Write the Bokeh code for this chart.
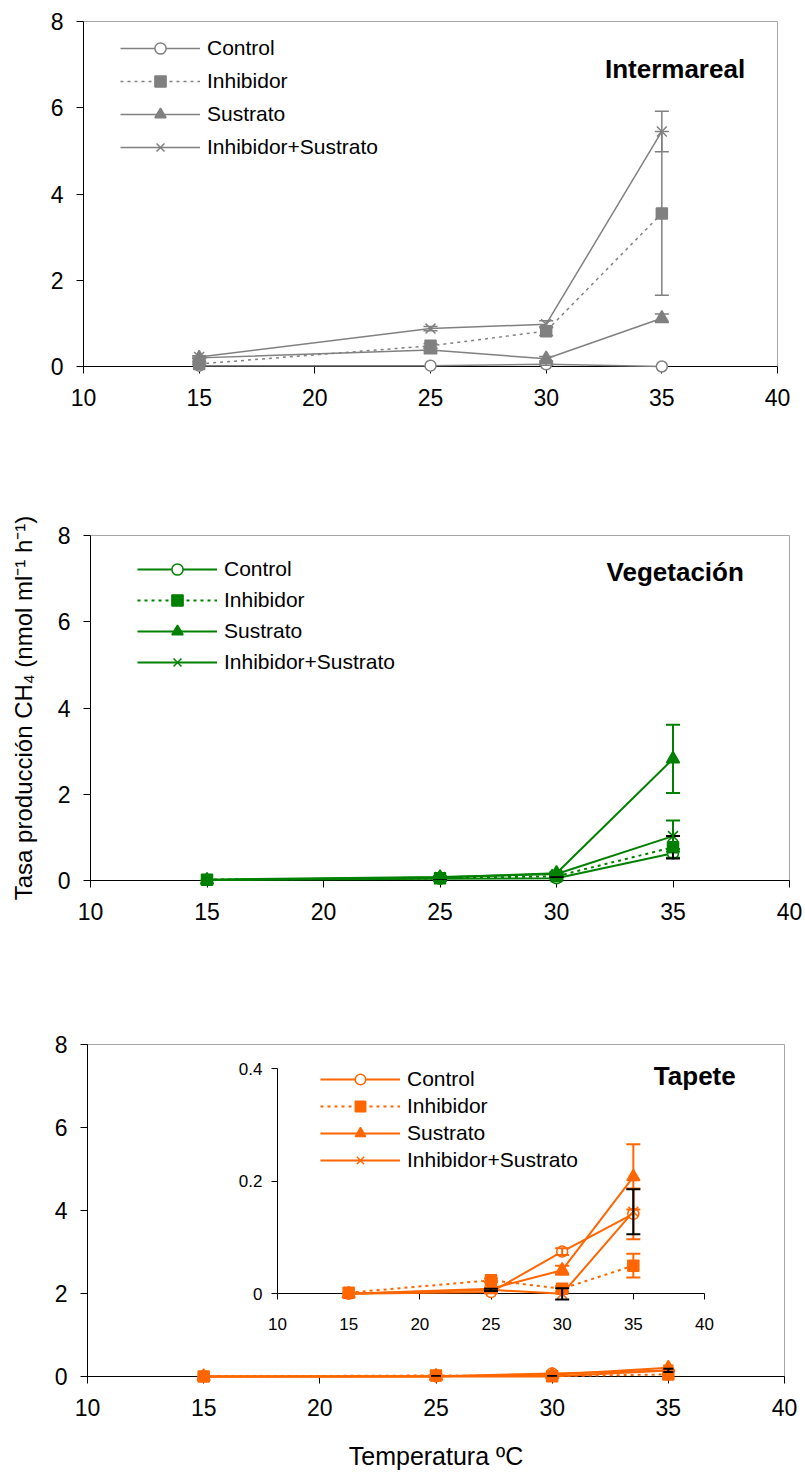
from bokeh.plotting import figure
from bokeh.layouts import column, row
from bokeh.models import (Range1d, LinearAxis, FixedTicker, Whisker, TeeHead,
                          ColumnDataSource, Legend, LegendItem, Label,
                          NumeralTickFormatter)
from bokeh.embed import file_html
from bokeh.resources import INLINE

# ---------------- data ----------------
temperatures = [15, 25, 30, 35]
x_ticks = [10, 15, 20, 25, 30, 35, 40]
y_ticks = [0, 2, 4, 6, 8]
inset_y_ticks = [0, 0.2, 0.4]
series_names = ["Control", "Inhibidor", "Sustrato", "Inhibidor+Sustrato"]

# Intermareal
int_control = [0.02, 0.02, 0.05, 0.0]
int_inhib = [0.06, 0.48, 0.82, 3.55]
int_sust = [0.2, 0.38, 0.18, 1.12]
int_inhsus = [0.22, 0.88, 0.98, 5.45]
int_control_err = [0.0, 0.0, 0.02, 0.0]
int_inhib_err = [0.02, 0.05, 0.1, 1.9]
int_sust_err = [0.02, 0.04, 0.05, 0.1]
int_inhsus_err = [0.03, 0.05, 0.08, 0.47]

# Vegetacion
veg_control = [0.01, 0.04, 0.05, 0.63]
veg_inhib = [0.02, 0.05, 0.1, 0.77]
veg_sust = [0.01, 0.07, 0.17, 2.82]
veg_inhsus = [0.02, 0.08, 0.15, 1.03]
veg_control_err = [0.0, 0.01, 0.02, 0.1]
veg_inhib_err = [0.0, 0.01, 0.02, 0.26]
veg_sust_err = [0.0, 0.01, 0.03, 0.79]
veg_inhsus_err = [0.0, 0.02, 0.03, 0.36]

# Tapete
tap_control = [0.0, 0.003, 0.075, 0.142]
tap_inhib = [0.002, 0.024, 0.009, 0.05]
tap_sust = [0.0, 0.009, 0.042, 0.208]
tap_inhsus = [0.0, 0.007, 0.0, 0.146]
tap_control_err = [0.0, 0.002, 0.006, 0.045]
tap_inhib_err = [0.0, 0.003, 0.005, 0.021]
tap_sust_err = [0.0, 0.002, 0.008, 0.058]
tap_inhsus_err = [0.0, 0.002, 0.01, 0.04]

# ---------------- style ----------------
FONT = "Liberation Sans"
GREY = "#808080"
GREEN = "#008000"
ORANGE = "#FF6600"
MARKERS = ["circle", "square", "triangle", "x"]
SIZES = [11, 11, 13, 14]
DASHES = ["solid", "3 4", "solid", "solid"]


def style_axis(ax, size="23px", tick_out=7, standoff=13):
    ax.axis_line_color = "black"
    ax.axis_line_width = 1
    ax.major_tick_line_color = "black"
    ax.major_tick_in = 0
    ax.major_tick_out = tick_out
    ax.minor_tick_line_color = None
    ax.major_label_text_font = FONT
    ax.major_label_text_font_size = size
    ax.major_label_text_color = "black"
    ax.major_label_standoff = standoff
    ax.axis_label_text_font = FONT
    ax.axis_label_text_font_style = "normal"
    ax.axis_label_text_color = "black"


def make_fig(left, fw, right, top, fh, bottom):
    p = figure(frame_width=fw, frame_height=fh,
               min_border_left=left, min_border_right=right,
               min_border_top=top, min_border_bottom=bottom,
               x_range=Range1d(10, 40), y_range=Range1d(0, 8),
               output_backend="svg", toolbar_location=None)
    p.grid.visible = False
    p.outline_line_color = "#a6a6a6"
    p.outline_line_width = 1
    p.background_fill_color = "white"
    p.border_fill_color = "white"
    p.xaxis.ticker = FixedTicker(ticks=x_ticks)
    p.yaxis.ticker = FixedTicker(ticks=y_ticks)
    style_axis(p.xaxis[0], standoff=15)
    style_axis(p.yaxis[0], standoff=13)
    return p


def draw_series(p, values, errors, color, err_colors, lw, xr="default", yr="default",
                head=14):
    items = []
    for name, vals, errs, mk, sz, dash, ec in zip(series_names, values, errors,
                                                   MARKERS, SIZES, DASHES, err_colors):
        src = ColumnDataSource(dict(x=temperatures, y=vals))
        ex = [t for t, e in zip(temperatures, errs) if e > 0]
        up = [v + e for v, e in zip(vals, errs) if e > 0]
        lo = [v - e for v, e in zip(vals, errs) if e > 0]
        if ex:
            wsrc = ColumnDataSource(dict(base=ex, upper=up, lower=lo))
            w = Whisker(source=wsrc, base="base", upper="upper", lower="lower",
                        line_color=ec, line_width=lw, level="overlay",
                        upper_head=TeeHead(size=head, line_color=ec, line_width=lw),
                        lower_head=TeeHead(size=head, line_color=ec, line_width=lw),
                        x_range_name=xr, y_range_name=yr)
            p.add_layout(w)
        lr = p.line("x", "y", source=src, line_color=color, line_width=lw,
                    line_dash=dash, level="overlay", x_range_name=xr, y_range_name=yr)
        sr = p.scatter("x", "y", source=src, marker=mk, size=sz,
                       fill_color="white" if mk == "circle" else color,
                       line_color=color, line_width=1.5, level="overlay",
                       x_range_name=xr, y_range_name=yr)
        items.append(LegendItem(label=name, renderers=[lr, sr]))
    return items


def add_legend(p, items, vx, vy, gh, sp):
    leg = Legend(items=items, location=(vx, vy), glyph_width=80, glyph_height=gh,
                 label_height=gh, spacing=sp, padding=0, margin=0, label_standoff=7,
                 label_text_font=FONT, label_text_font_size="21px",
                 label_text_color="black",
                 background_fill_alpha=0, border_line_alpha=0)
    p.add_layout(leg)


def add_title(p, text, x, y):
    p.add_layout(Label(x=x, y=y, text=text, text_align="right",
                       text_baseline="middle", text_font=FONT,
                       text_font_size="26px", text_font_style="bold",
                       text_color="black"))


# ---------------- panel 1: Intermareal ----------------
p1 = make_fig(83, 694, 28, 21, 345, 134)
it1 = draw_series(p1, [int_control, int_inhib, int_sust, int_inhsus],
                  [int_control_err, int_inhib_err, int_sust_err, int_inhsus_err],
                  GREY, [GREY] * 4, 1.5)
add_legend(p1, it1, 37, 205, 28, 5)
add_title(p1, "Intermareal", 38.6, 6.9)

# ---------------- panel 2: Vegetacion ----------------
p2 = make_fig(90, 699, 16, 35, 345, 150)
it2 = draw_series(p2, [veg_control, veg_inhib, veg_sust, veg_inhsus],
                  [veg_control_err, veg_inhib_err, veg_sust_err, veg_inhsus_err],
                  GREEN, [GREEN, "black", GREEN, GREEN], 2)
add_legend(p2, it2, 47, 204, 28, 3)
add_title(p2, "Vegetación", 38.04, 7.15)
p2.yaxis[0].axis_label = "Tasa producción CH₄ (nmol ml⁻¹ h⁻¹)"
p2.yaxis[0].axis_label_text_font_size = "24px"
p2.yaxis[0].axis_label_standoff = 18

# ---------------- panel 3: Tapete ----------------
p3 = make_fig(87, 697, 21, 14, 332, 97)
tap_vals = [tap_control, tap_inhib, tap_sust, tap_inhsus]
tap_errs = [tap_control_err, tap_inhib_err, tap_sust_err, tap_inhsus_err]
tap_ecol = [ORANGE, ORANGE, ORANGE, "black"]
draw_series(p3, tap_vals, tap_errs, ORANGE, tap_ecol, 2, head=10)
p3.xaxis[0].axis_label = "Temperatura ºC"
p3.xaxis[0].axis_label_text_font_size = "25px"
p3.xaxis[0].axis_label_standoff = 23

# inset placement (pixel positions inside main frame)
FW3, FH3 = 697, 332
ix_left, ix_right = 190.0, 617.0      # px from frame left for x=10 and x=40
iy_bottom, iy_top = 82.7, 307.7       # px from frame bottom for y=0 and y=0.4
sx = 30.0 / (ix_right - ix_left)
sy = 0.4 / (iy_top - iy_bottom)
p3.extra_x_ranges = {"ix": Range1d(10 - ix_left * sx, 40 + (FW3 - ix_right) * sx)}
p3.extra_y_ranges = {"iy": Range1d(0 - iy_bottom * sy, 0.4 + (FH3 - iy_top) * sy)}

ax_ix = LinearAxis(x_range_name="ix", y_range_name="iy", fixed_location=0,
                   bounds=(10, 40), ticker=FixedTicker(ticks=x_ticks))
style_axis(ax_ix, size="17px", tick_out=6, standoff=18)
p3.add_layout(ax_ix, "below")
ax_iy = LinearAxis(x_range_name="ix", y_range_name="iy", fixed_location=10,
                   bounds=(0, 0.4), ticker=FixedTicker(ticks=inset_y_ticks),
                   formatter=NumeralTickFormatter(format="0.[0]"))
style_axis(ax_iy, size="17px", tick_out=6, standoff=9)
p3.add_layout(ax_iy, "left")

it3 = draw_series(p3, tap_vals, tap_errs, ORANGE, tap_ecol, 2, xr="ix", yr="iy")
add_legend(p3, it3, 233, 203, 26, 1)
add_title(p3, "Tapete", 37.9, 7.25)
p3.add_layout(Label(x=7.6, y=0.84, text=".", text_font=FONT, text_font_size="22px",
                    text_align="center", text_baseline="middle", text_color="black"))

layout = column(row(p1), row(p2), row(p3), spacing=0)
open("out.html", "w").write(file_html(layout, INLINE))
